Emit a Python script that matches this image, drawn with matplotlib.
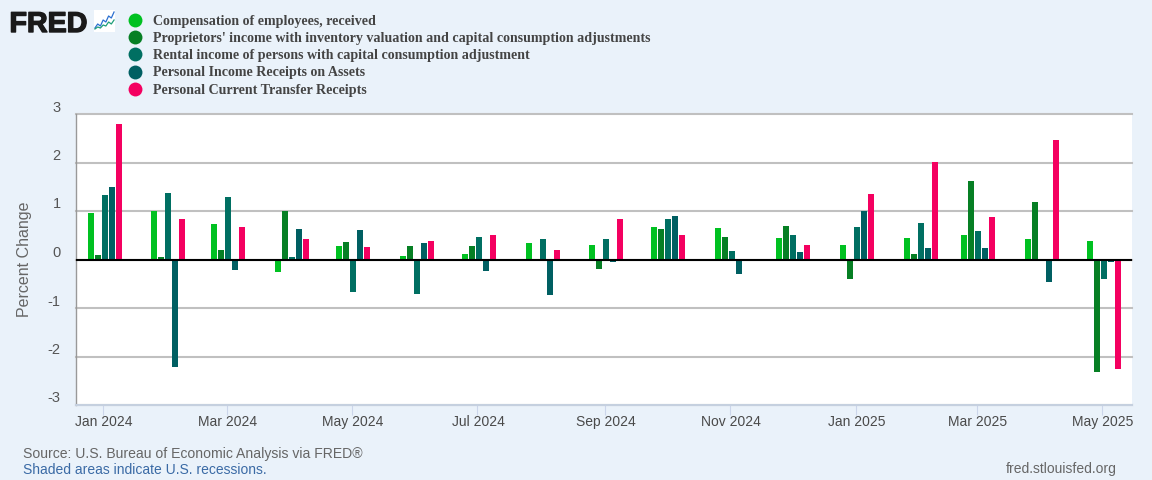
import datetime as dt
import matplotlib
matplotlib.use("Agg")
import matplotlib.pyplot as plt
import matplotlib.dates as mdates
import matplotlib.patheffects as pe
from matplotlib.lines import Line2D
from matplotlib.transforms import ScaledTranslation

months = ["2024-01", "2024-02", "2024-03", "2024-04", "2024-05", "2024-06", "2024-07", "2024-08", "2024-09",
          "2024-10", "2024-11", "2024-12", "2025-01", "2025-02", "2025-03", "2025-04", "2025-05"]

compensation = [0.95, 1.01, 0.74, -0.25, 0.27, 0.08, 0.12, 0.33, 0.29, 0.66, 0.64, 0.45, 0.29, 0.45, 0.515, 0.43, 0.39]
proprietors = [0.10, 0.06, 0.205, 0.99, 0.37, 0.27, 0.27, 0.0, -0.19, 0.62, 0.47, 0.70, -0.41, 0.12, 1.61, 1.195, -2.31]
rental = [1.34, 1.38, 1.28, 0.06, -0.68, -0.72, 0.47, 0.43, 0.43, 0.825, 0.165, 0.495, 0.68, 0.76, 0.58, 0.0, -0.41]
assets = [1.505, -2.21, -0.21, 0.62, 0.60, 0.33, -0.23, -0.74, -0.06, 0.905, -0.29, 0.145, 0.99, 0.23, 0.23, -0.47, -0.06]
transfers = [2.80, 0.825, 0.68, 0.43, 0.25, 0.39, 0.495, 0.205, 0.845, 0.495, -0.04, 0.29, 1.36, 2.02, 0.87, 2.47, -2.25]

series = [compensation, proprietors, rental, assets, transfers]
labels = ["Compensation of employees, received",
          "Proprietors' income with inventory valuation and capital consumption adjustments",
          "Rental income of persons with capital consumption adjustment",
          "Personal Income Receipts on Assets",
          "Personal Current Transfer Receipts"]
colors = ["#00C121", "#067F24", "#006F62", "#005F62", "#F40060"]

yticks = [-3, -2, -1, 0, 1, 2, 3]
ytick_labels = ["-3", "-2", "-1", "0", "1", "2", "3"]
xtick_months = ["2024-01", "2024-03", "2024-05", "2024-07", "2024-09", "2024-11", "2025-01", "2025-03", "2025-05"]
logo_blue = [1, 3, 2, 5, 4, 7, 6, 9]
logo_green = [0.5, 1.5, 1, 2.5, 2, 4, 3, 5]

W, H = 1152, 480
BG = "#EAF2FA"
PX_PER_DAY = 2.0556


def todate(s):
    return dt.datetime.strptime(s, "%Y-%m")


plt.rcParams["font.family"] = ["Liberation Sans", "DejaVu Sans"]
fig = plt.figure(figsize=(W / 100, H / 100), dpi=100, facecolor=BG)
ax = fig.add_axes([75.5 / W, 1 - 405 / H, (1132 - 75.5) / W, (405 - 114) / H])
ax.set_facecolor("white")

dates = [todate(m) for m in months]
for i, vals in enumerate(series):
    # bars sit 7px apart and 6px wide, group shifted a little right of the tick
    offs = dt.timedelta(days=((i - 2) * 7 + 1.5) / PX_PER_DAY)
    ax.bar([d + offs for d in dates], vals, width=6 / PX_PER_DAY, color=colors[i], zorder=3, linewidth=0)

ax.axhline(0, color="black", linewidth=1.5, zorder=4)
ax.set_ylim(-3, 3)
ax.set_xlim(todate("2024-01") - dt.timedelta(days=13.5), todate("2025-05") + dt.timedelta(days=14.5))
ax.set_yticks(yticks)
ax.set_yticklabels(ytick_labels)
ax.set_xticks([mdates.date2num(todate(m)) for m in xtick_months])
ax.set_xticklabels([todate(m).strftime("%b %Y") for m in xtick_months])
ax.grid(axis="y", color="#C0C0C0", linewidth=1.5, zorder=1)
ax.set_axisbelow(True)
# top gridline sits on the edge of the axes, don't cut it in half
for g in ax.get_ygridlines():
    g.set_clip_on(False)

for s in ["top", "right"]:
    ax.spines[s].set_visible(False)
ax.spines["left"].set_color("#999999")
ax.spines["left"].set_linewidth(1)
ax.spines["bottom"].set_color("#C5D0DF")
ax.spines["bottom"].set_linewidth(1.5)

ax.tick_params(axis="x", length=7.5, width=0.8, color="#CCD6EB", labelsize=10, labelcolor="#4A4A4A", pad=-0.2)
ax.tick_params(axis="y", length=0, labelsize=10.5, labelcolor="#555555", pad=10.8)
up = ScaledTranslation(0, 0.08, fig.dpi_scale_trans)
for t in ax.get_yticklabels():
    t.set_transform(t.get_transform() + up)
right = ScaledTranslation(0.008, 0, fig.dpi_scale_trans)
for t in ax.get_xticklabels():
    t.set_transform(t.get_transform() + right)

fig.text(24.5 / W, 1 - 259 / H, "Percent Change", rotation=90, ha="center", va="center", fontsize=11.5, color="#666666")

handles = [Line2D([], [], linestyle="none", marker="o", markersize=10, color=c, markeredgewidth=0) for c in colors]
leg = fig.legend(handles, labels, loc="upper left", bbox_to_anchor=(128.3 / W, 1 - 14.5 / H), frameon=False,
                 prop={"family": "Liberation Serif", "weight": "bold", "size": 10.05},
                 labelcolor="#444444", labelspacing=0.31, handletextpad=0.76, handlelength=1.0, borderpad=0, borderaxespad=0)

# logo
fig.text(9.5 / W, 1 - 32 / H, "FRED", fontsize=20.6, fontweight="bold", color="#1A1A1A", ha="left", va="baseline",
         path_effects=[pe.withStroke(linewidth=1.0, foreground="#1A1A1A")])
logo = fig.add_axes([94 / W, 1 - 32 / H, 21 / W, 22 / H], facecolor="white")
logo.plot(logo_blue, color="#2A6FD0", linewidth=0.9)
logo.plot(logo_green, color="#1E9E7A", linewidth=0.9)
logo.set_xticks([])
logo.set_yticks([])
logo.set_ylim(-1, 10)
for s in logo.spines.values():
    s.set_visible(False)

fig.text(23 / W, 1 - 454 / H, "Source: U.S. Bureau of Economic Analysis via FRED\u00ae", fontsize=10.05, color="#666666", ha="left", va="center")
fig.text(23 / W, 1 - 469.5 / H, "Shaded areas indicate U.S. recessions.", fontsize=10, color="#3A6AA5", ha="left", va="center")
fig.text(1116.5 / W, 1 - 469.5 / H, "fred.stlouisfed.org", fontsize=10, color="#666666", ha="right", va="center")

fig.savefig("out.png", dpi=100, facecolor=BG)
